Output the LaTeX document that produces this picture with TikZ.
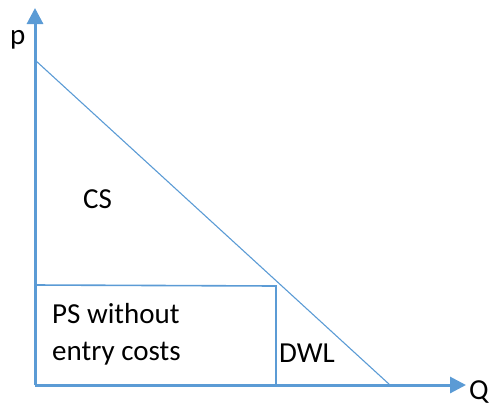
\documentclass[tikz,border=0pt]{standalone}
\usepackage{fontspec}
\setmainfont{Carlito}
\usepackage{tikz}
\usetikzlibrary{positioning,arrows.meta}
\definecolor{axisblue}{RGB}{91,155,213}

\begin{document}
\begin{tikzpicture}[x=1pt, y=-1pt, >={Triangle[length=16pt,width=16pt]}]
      \tikzstyle{axis} = [draw=axisblue, line width=3pt, ->]
      \tikzstyle{curve} = [draw=axisblue, line width=1.1pt]
      \tikzstyle{lbl} = [inner sep=0pt, anchor=base west, font=\fontsize{29}{37}\selectfont]
      \useasboundingbox (0,0) rectangle (489,405);
      \coordinate (o) at (35, 385);
      \coordinate (ptop) at (35, 8);
      \coordinate (qend) at (466, 385);
      \coordinate (d0) at (35, 60);
      \coordinate (d1) at (390, 385);
      \coordinate (r0) at (35, 285);
      \coordinate (r1) at (276, 286);
      \coordinate (r2) at (276, 385);

      \draw [curve] (d0) -- (d1);
      \draw [curve, line width=1.6pt] (r0) -- (r1) -- (r2);
      \draw [axis] (o) -- (ptop);
      \draw [axis] (o) -- (qend);

      \node [lbl] (p) at (10, 44) {p};
      \node [lbl] (q) at (469, 399) {Q};
      \node [lbl] (cs) at (83, 208) {CS};
      \node [lbl] (ps) at (52, 323) {PS without};
      \node [lbl] (ent) at (52, 360) {entry costs};
      \node [lbl] (dwl) at (279, 362) {DWL};
    \end{tikzpicture}
\end{document}
